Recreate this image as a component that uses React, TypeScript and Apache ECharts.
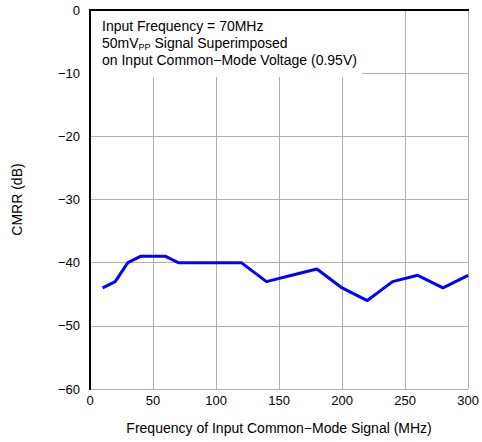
import React, { useEffect, useRef } from "react";
import * as echarts from "echarts";

const freqMHz = [10, 20, 30, 40, 60, 70, 80, 90, 100, 110, 120, 140, 160, 180, 200, 220, 240, 260, 280, 300];
const cmrrDb = [-44, -43, -40, -39, -39, -40, -40, -40, -40, -40, -40, -43, -42, -41, -44, -46, -43, -42, -44, -42];
const noteLines = ["Input Frequency = 70MHz", "50mV{sub|PP} Signal Superimposed", "on Input Common\u2212Mode Voltage (0.95V)"];

const FONT = "Liberation Sans, Arial, sans-serif";

export default function App() {
  const ref = useRef<HTMLDivElement>(null);
  useEffect(() => {
    if (!ref.current) return;
    const chart = echarts.init(ref.current, null, { renderer: "svg" });
    const fmt = (v: number) => String(v).replace("-", "\u2212");
    const border = { show: true, lineStyle: { color: "#000", width: 2 } };
    chart.setOption({
      animation: false,
      backgroundColor: "#fff",
      textStyle: { fontFamily: FONT },
      grid: { left: 90, right: 13, top: 10, bottom: 53 },
      xAxis: [
        {
          type: "value", min: 0, max: 300, interval: 50,
          name: "Frequency of Input Common\u2212Mode Signal (MHz)",
          nameLocation: "middle", nameGap: 32,
          nameTextStyle: { fontSize: 14, color: "#000", fontFamily: FONT },
          axisLine: border, axisTick: { show: false },
          axisLabel: { fontSize: 13, color: "#000", fontFamily: FONT, margin: 5, formatter: fmt },
          splitLine: { show: true, lineStyle: { color: "#b0b0b0", width: 1 } },
          z: 0,
        },
        {
          type: "value", position: "top", min: 0, max: 300, interval: 50,
          axisLine: border, axisTick: { show: false }, axisLabel: { show: false }, splitLine: { show: false }, z: 0,
        },
      ],
      yAxis: [
        {
          type: "value", min: -60, max: 0, interval: 10,
          name: "CMRR (dB)", nameLocation: "middle", nameGap: 66, nameRotate: 90,
          nameTextStyle: { fontSize: 14, color: "#000", fontFamily: FONT },
          axisLine: border, axisTick: { show: false },
          axisLabel: { fontSize: 13, color: "#000", fontFamily: FONT, margin: 10, formatter: fmt },
          splitLine: { show: true, lineStyle: { color: "#b0b0b0", width: 1 } },
          z: 0,
        },
        {
          type: "value", position: "right", min: -60, max: 0, interval: 10,
          axisLine: border, axisTick: { show: false }, axisLabel: { show: false }, splitLine: { show: false }, z: 0,
        },
      ],
      series: [{
        type: "line",
        data: freqMHz.map((f, i) => [f, cmrrDb[i]]),
        showSymbol: false,
        lineStyle: { color: "#0000ff", width: 3 },
        z: 3,
      }],
      graphic: [
        { type: "rect", shape: { x: 91, y: 11, width: 271, height: 66 }, style: { fill: "#fff" }, z: 10 },
        {
          type: "text", x: 102, y: 17, z: 11,
          style: {
            text: noteLines.join("\n"),
            fontSize: 14, fontFamily: FONT, fill: "#000", lineHeight: 17,
            rich: { sub: { fontSize: 9, fontFamily: FONT, verticalAlign: "bottom", padding: [6, 0, 0, 0], lineHeight: 17 } },
          },
        },
      ],
    });
    return () => chart.dispose();
  }, []);
  return <div ref={ref} style={{ position: "absolute", left: 0, top: 0, width: 482, height: 442 }} />;
}
